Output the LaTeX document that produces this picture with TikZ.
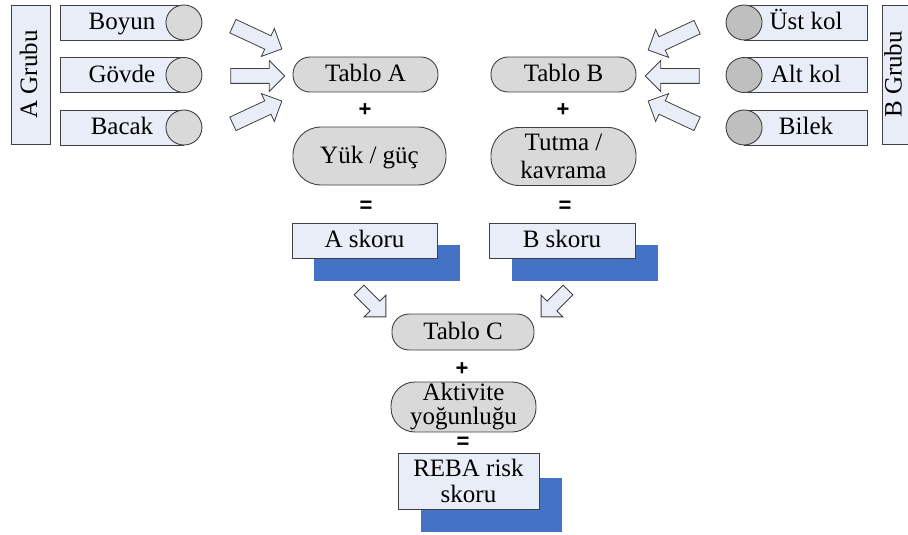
\documentclass[tikz,border=0pt]{standalone}
\usepackage{fontspec}
\setmainfont{Liberation Serif}
\setsansfont{Liberation Sans}
\usetikzlibrary{positioning,shapes.geometric,shapes.arrows}
\definecolor{rebablue}{RGB}{232,237,247}
\definecolor{rebagray}{RGB}{217,217,217}
\definecolor{rebadark}{RGB}{191,191,191}
\definecolor{rebashade}{RGB}{68,114,196}
\definecolor{rebaline}{RGB}{64,64,64}

\begin{document}
\begin{tikzpicture}[
    x=1pt, y=-1pt,
    txt/.style={
        font=\fontsize{25}{28}\selectfont,
        align=center
    },
    oneline/.style={
        text height=18.5pt,
        text depth=4.5pt
    },
    twoline/.style={
        text height={},
        text depth={},
        font=\fontsize{25}{#1}\selectfont
    },
    grp/.style={
        rectangle,
        draw=rebaline,
        fill=rebablue,
        line width=0.9pt,
        minimum width=39pt,
        minimum height=139pt,
        inner sep=0pt
    },
    grptxt/.style={
        txt,
        rotate=90,
        inner sep=0pt
    },
    limb/.style={
        rectangle,
        draw=rebaline,
        fill=rebablue,
        line width=0.9pt,
        minimum width=123pt,
        minimum height=35pt,
        inner sep=0pt,
        txt, oneline
    },
    endcap/.style={
        ellipse,
        draw=rebaline,
        line width=0.9pt,
        minimum width=36pt,
        minimum height=35pt,
        inner sep=0pt
    },
    pill/.style={
        rectangle,
        draw=rebaline,
        fill=rebagray,
        line width=0.9pt,
        rounded corners=17pt,
        minimum width=145pt,
        minimum height=35pt,
        inner sep=0pt,
        txt, oneline
    },
    score/.style={
        rectangle,
        draw=rebaline,
        fill=rebablue,
        line width=0.9pt,
        minimum width=145pt,
        minimum height=35pt,
        inner sep=0pt,
        txt, oneline
    },
    shade/.style={
        rectangle,
        fill=rebashade,
        inner sep=0pt
    },
    blk/.style={
        single arrow,
        draw=rebaline,
        fill=rebablue,
        line width=0.8pt,
        inner xsep=0pt,
        inner ysep=7pt,
        single arrow head extend=8pt,
        minimum height=54pt
    },
    op/.style={
        font=\sffamily\bfseries\fontsize{22}{22}\selectfont,
        inner sep=0pt
    }
]

\clip (0,0) rectangle (908,535);

% Groups
\node[grp] (grpA) at (30.5,74.5) {};
\node[grptxt] (grpAtxt) at (28.5,74.5) {A Grubu};
\node[grp] (grpB) at (901.5,74.5) {};
\node[grptxt] (grpBtxt) at (893,74.5) {B Grubu};

% A group limbs
\node[limb] (boyun) at (122,22.5) {Boyun};
\node[limb] (govde) at (122,75) {Gövde};
\node[limb] (bacak) at (122,127.5) {Bacak};
\node[endcap, fill=rebagray] (boyunc) at (boyun.east) {};
\node[endcap, fill=rebagray] (govdec) at (govde.east) {};
\node[endcap, fill=rebagray] (bacakc) at (bacak.east) {};

% B group limbs
\node[limb] (ustkol) at (806,22.5) {Üst kol};
\node[limb] (altkol) at (806,75) {Alt kol};
\node[limb] (bilek) at (806,127.5) {Bilek};
\node[endcap, fill=rebadark] (ustkolc) at (ustkol.west) {};
\node[endcap, fill=rebadark] (altkolc) at (altkol.west) {};
\node[endcap, fill=rebadark] (bilekc) at (bilek.west) {};

% Tables A and B
\node[pill] (tabloA) at (365.5,74.5) {Tablo A};
\node[pill] (tabloB) at (563.5,74.5) {Tablo B};
\node[op] (plusA) at (365,110) {+};
\node[op] (plusB) at (563,110) {+};
\node[pill, minimum width=153pt, minimum height=58pt, rounded corners=28pt] (yuk) at (369.5,156) {Yük / güç};
\node[pill, twoline=28, minimum height=58pt, rounded corners=28pt] (tutma) at (563.5,156.5) {Tutma /\\kavrama};
\node[op] (eqA) at (366,207) {=};
\node[op] (eqB) at (565,207) {=};

% Scores
\node[shade, minimum width=146pt, minimum height=36pt] (askorsh) at (387,263) {};
\node[shade, minimum width=146pt, minimum height=36pt] (bskorsh) at (585,263) {};
\node[score] (askor) at (364.5,240.5) {A skoru};
\node[score, minimum width=146pt] (bskor) at (562,240.5) {B skoru};

% Table C
\node[pill, minimum width=142pt, minimum height=36pt] (tabloC) at (463,332) {Tablo C};
\node[op] (plusC) at (462,369) {+};
\node[pill, twoline=24, minimum height=50pt, rounded corners=24pt] (aktivite) at (463.5,407) {Aktivite\\yoğunluğu};
\node[op] (eqC) at (463,443) {=};
\node[shade, minimum width=141pt, minimum height=54pt] (rebash) at (491.5,505) {};
\node[score, twoline=26, minimum width=141pt, minimum height=56pt] (reba) at (468.5,481) {REBA risk\\skoru};

% Block arrows
\node[blk, rotate=-25] (inA1) at (254,36) {};
\node[blk] (inA2) at (254,76) {};
\node[blk, rotate=25] (inA3) at (254,114) {};
\node[blk, rotate=-155] (inB1) at (676,37) {};
\node[blk, rotate=180] (inB2) at (676,76) {};
\node[blk, rotate=155] (inB3) at (676,114) {};
\node[blk, rotate=-45, minimum height=38pt, inner ysep=6.5pt, single arrow head extend=8.5pt] (outA) at (370,301) {};
\node[blk, rotate=-135, minimum height=38pt, inner ysep=6.5pt, single arrow head extend=8.5pt] (outB) at (557,301) {};

\end{tikzpicture}
\end{document}
